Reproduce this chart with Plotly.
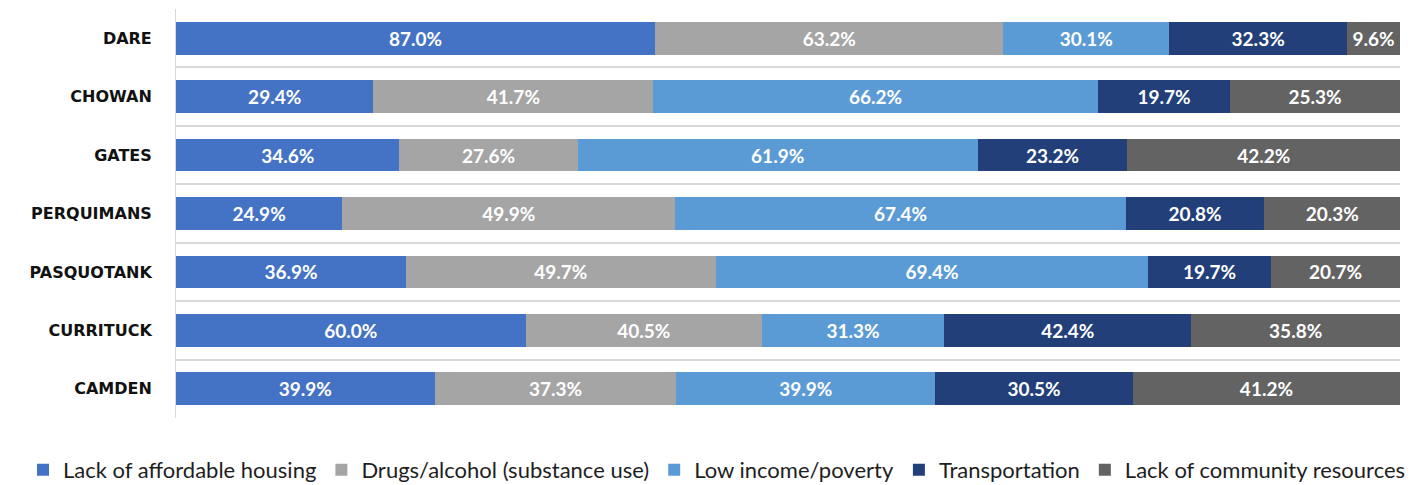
import plotly.graph_objects as go

counties = ["DARE", "CHOWAN", "GATES", "PERQUIMANS", "PASQUOTANK", "CURRITUCK", "CAMDEN"]
series_names = ["Lack of affordable housing", "Drugs/alcohol (substance use)",
                "Low income/poverty", "Transportation", "Lack of community resources"]
housing = [87.0, 29.4, 34.6, 24.9, 36.9, 60.0, 39.9]
drugs = [63.2, 41.7, 27.6, 49.9, 49.7, 40.5, 37.3]
low_income = [30.1, 66.2, 61.9, 67.4, 69.4, 31.3, 39.9]
transport = [32.3, 19.7, 23.2, 20.8, 19.7, 42.4, 30.5]
community = [9.6, 25.3, 42.2, 20.3, 20.7, 35.8, 41.2]

series_values = [housing, drugs, low_income, transport, community]
colors = ["#4472C4", "#A5A5A5", "#5B9BD5", "#223F7A", "#636363"]

fig = go.Figure()
for name, vals, col in zip(series_names, series_values, colors):
    fig.add_trace(go.Bar(
        y=counties, x=vals, name=name, orientation="h",
        marker=dict(color=col, line=dict(width=0)),
        text=[f"{v:.1f}%" for v in vals],
        textposition="inside", insidetextanchor="middle",
        textfont=dict(family="Lato", size=19, color="white", weight="bold"),
        hoverinfo="skip",
    ))

fig.update_layout(
    barmode="stack", barnorm="percent", bargap=0.44,
    width=1424, height=485,
    margin=dict(l=168, r=32, t=1, b=75, autoexpand=False),
    paper_bgcolor="white", plot_bgcolor="white",
    uniformtext=dict(mode=False),
    legend=dict(orientation="h", x=-0.125, xanchor="left", y=-0.127, yanchor="middle",
                font=dict(family="Lato", size=22, color="#1E1E1E"),
                traceorder="normal", itemwidth=30),
    xaxis=dict(visible=False, range=[0, 100], fixedrange=True),
    yaxis=dict(autorange="reversed", tickson="boundaries", showgrid=True,
               gridcolor="#D9D9D9", gridwidth=1.5, showline=True, linecolor="#D9D9D9",
               ticks="", ticklabelstandoff=20,
               tickfont=dict(family="DejaVu Sans", size=16, color="#111111", weight="bold")),
)

fig.write_html("out.html")
